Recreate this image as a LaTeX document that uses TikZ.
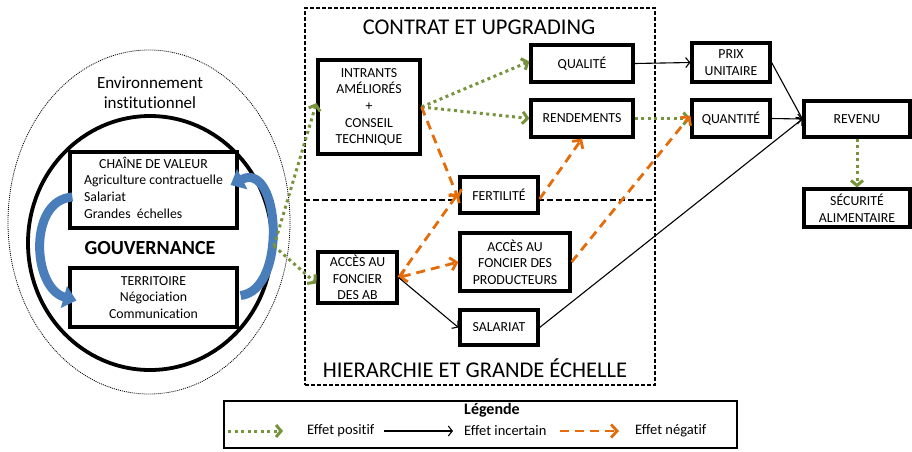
\documentclass[tikz,border=0pt]{standalone}
\usepackage{fontspec}
\setmainfont{Carlito}[Ligatures=NoCommon]
\usetikzlibrary{arrows.meta,shapes.geometric}
\definecolor{pgreen}{HTML}{77933C}
\definecolor{norange}{HTML}{E46C0A}
\definecolor{gblue}{HTML}{4A7EBB}
\begin{document}
\begin{tikzpicture}[x=1pt,y=-1pt,
  box/.style={draw=black,fill=white,line width=3.2pt,align=center,inner sep=0pt,font=\fontsize{13.8}{16.7}\selectfont},
  poseff/.style={draw=pgreen,line width=3pt,dash pattern=on 3pt off 3.5pt,-{Straight Barb[length=5pt,width=12pt,line width=3pt]}},
  negeff/.style={draw=norange,line width=2.8pt,dash pattern=on 9pt off 6pt,-{Straight Barb[length=6pt,width=13pt,line width=2.8pt]}},
  unceff/.style={draw=black,line width=1.1pt,-{Straight Barb[length=4pt,width=10pt,line width=1.1pt]}},
  bluearrow/.style={draw=gblue,line width=9pt,-{Triangle[length=13pt,width=22pt]}},
  framebox/.style={draw=black,line width=1.1pt,dash pattern=on 4pt off 2pt,inner sep=0pt},
  titletext/.style={font=\fontsize{22.5}{26}\selectfont},
  legtext/.style={font=\fontsize{14.5}{17}\selectfont,anchor=west,inner sep=0pt}]
\useasboundingbox (0,0) rectangle (912,451);

% left part
\node[ellipse,draw=black,line width=0.8pt,dash pattern=on 1pt off 1pt,minimum width=282,minimum height=344,inner sep=0pt] (env) at (149,222) {};
\node[ellipse,draw=black,line width=3.8pt,minimum width=244,minimum height=254,inner sep=0pt] (gov) at (150,243) {};
\node[align=center,font=\fontsize{17}{20}\selectfont] (envt) at (150,93) {Environnement\\institutionnel};
\node[box,minimum width=167,minimum height=76] (cv) at (153.5,190) {\begin{tabular}{@{}l@{}}\multicolumn{1}{c}{CHAÎNE DE VALEUR}\\Agriculture contractuelle\\Salariat\\Grandes\ \ échelles\end{tabular}};
\node[box,minimum width=167,minimum height=59] (tr) at (153.5,297.5) {TERRITOIRE\\Négociation\\Communication};
\node[font=\fontsize{20}{24}\selectfont\bfseries] (govt) at (150,248) {GOUVERNANCE};
\draw[bluearrow] ([shift={(4,7)}]cv.west) .. controls (28,200) and (32,288) .. ([shift={(8,3)}]tr.west);
\draw[bluearrow] ([shift={(2,-2)}]tr.east) .. controls (288,290) and (280,160) .. ([shift={(-8,-5)}]cv.east);

% frames
\node[framebox,minimum width=350,minimum height=377] (fr) at (480,196.5) {};
\draw[draw=black,line width=2.4pt,dash pattern=on 6pt off 3pt] ([yshift=-3.5]fr.west) -- ([yshift=-3.5]fr.east);
\node[titletext] (t1) at (479,27) {CONTRAT ET UPGRADING};
\node[titletext] (t2) at (475,368) {HIERARCHIE ET GRANDE ÉCHELLE};

% boxes
\node[box,minimum width=102,minimum height=94] (intr) at (369,107) {INTRANTS\\AMÉLIORÉS\\+\\CONSEIL\\TECHNIQUE};
\node[box,minimum width=102,minimum height=37] (qual) at (582,63.5) {QUALITÉ};
\node[box,minimum width=102,minimum height=37] (rend) at (582,118.5) {RENDEMENTS};
\node[box,minimum width=78,minimum height=36] (fert) at (499,195) {FERTILITÉ};
\node[box,minimum width=79,minimum height=51] (ab) at (357.5,277.5) {ACCÈS AU\\FONCIER\\DES AB};
\node[box,minimum width=110,minimum height=58] (prod) at (515,262) {ACCÈS AU\\FONCIER DES\\PRODUCTEURS};
\node[box,minimum width=78,minimum height=35] (sal) at (499,327.5) {SALARIAT};
\node[box,minimum width=78,minimum height=39] (prix) at (731,62.5) {PRIX\\UNITAIRE};
\node[box,minimum width=78,minimum height=37] (quant) at (731,118.5) {QUANTITÉ};
\node[box,minimum width=106,minimum height=36] (rev) at (857,119) {REVENU};
\node[box,minimum width=106,minimum height=38] (secu) at (857,208) {SÉCURITÉ\\ALIMENTAIRE};

% connectors
\draw[poseff] ([yshift=-3]gov.east) -- ([yshift=4]intr.west);
\draw[poseff] ([yshift=-3]gov.east) -- ([yshift=-6]ab.west);
\draw[poseff] (intr.east) -- ([yshift=2]qual.west);
\draw[poseff] (intr.east) -- (rend.west);
\draw[negeff] (intr.east) -- ([yshift=-4]fert.west);
\draw[negeff] ([yshift=-4]fert.east) -- (rend.south);
\draw[poseff] (rend.east) -- (quant.west);
\draw[negeff] (prod.east) -- ([yshift=3]quant.west);
\draw[unceff] (qual.east) -- (prix.west);
\draw[unceff] (prix.east) -- (rev.west);
\draw[unceff] (quant.east) -- (rev.west);
\draw[unceff] (sal.east) -- (rev.west);
\draw[negeff,{Straight Barb[length=6pt,width=13pt,line width=2.8pt]}-{Straight Barb[length=6pt,width=13pt,line width=2.8pt]}] (ab.east) -- (prod.west);
\draw[negeff] (ab.east) -- ([yshift=2]fert.west);
\draw[unceff] (ab.east) -- (sal.west);
\draw[poseff] (rev.south) -- (secu.north);

% legend
\node[draw=black,line width=1.5pt,minimum width=513,minimum height=47,inner sep=0pt] (leg) at (480.5,424.5) {};
\node[font=\fontsize{16}{19}\selectfont\bfseries] (legt) at (492,410) {Légende};
\coordinate (g1) at (228,431);
\coordinate (g2) at (283,431);
\coordinate (b1) at (384,431);
\coordinate (b2) at (453,431);
\coordinate (o1) at (560,431);
\coordinate (o2) at (619,431);
\draw[poseff] (g1) -- (g2);
\draw[unceff] (b1) -- (b2);
\draw[negeff] (o1) -- (o2);
\node[legtext] (l1) at (307,431) {Effet positif};
\node[legtext] (l2) at (464,431) {Effet incertain};
\node[legtext] (l3) at (635,431) {Effet négatif};
\end{tikzpicture}
\end{document}
